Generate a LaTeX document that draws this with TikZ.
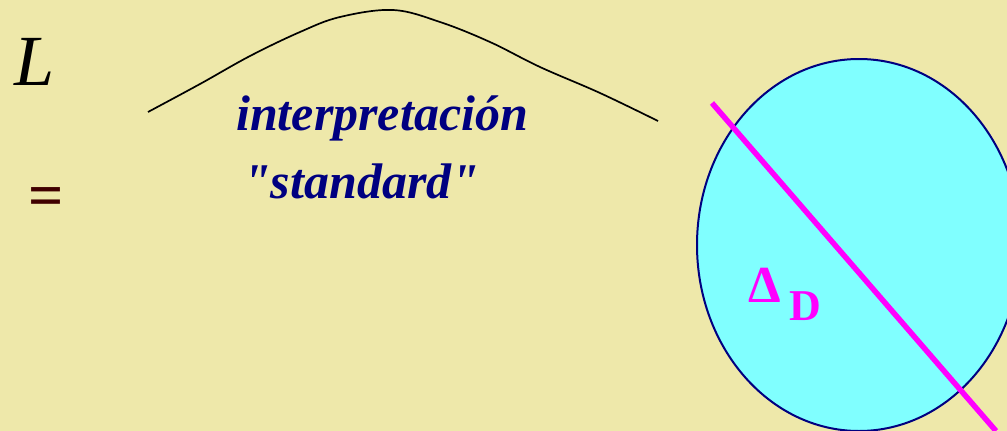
\documentclass[tikz,border=0pt]{standalone}
\usepackage{fontspec}
\setmainfont{Liberation Serif}
\newfontfamily\plainserif{Liberation Serif}
\definecolor{bgyel}{RGB}{238,232,170}
\definecolor{navy}{RGB}{0,0,128}
\definecolor{cyanfill}{RGB}{128,255,255}
\definecolor{maroon}{RGB}{64,0,0}
\definecolor{magen}{RGB}{255,0,255}
\begin{document}
\begin{tikzpicture}[x=1pt,y=-1pt,
  bluetext/.style={text=navy,font=\plainserif\fontsize{50}{50}\selectfont\bfseries\itshape,inner sep=0pt,anchor=base west},
  labtext/.style={text=magen,inner sep=0pt,anchor=base west}]
\useasboundingbox (0,0) rectangle (1007,431);
\fill[bgyel] (0,0) rectangle (1007,431);
% ellipse
\begin{scope}
\clip (0,0) rectangle (1007,431);
\draw[navy,fill=cyanfill,line width=2pt] (859,245) ellipse [x radius=162, y radius=186];
\coordinate (ls) at (712,103);
\coordinate (le) at (996,431);
\draw[magen,line width=5.5pt] (ls) -- (le);
\end{scope}
% arc
\draw[black,line width=1.7pt] plot[smooth,tension=0.6] coordinates {(148,112) (200,84) (250,56) (300,32) (340,17) (393,10) (440,22) (490,42) (540,67) (600,93) (658,121)};
% texts
\node[inner sep=0pt,anchor=base west,font=\fontsize{72}{72}\selectfont\itshape] (L) at (14,85) {L};
\node[inner sep=0pt,anchor=base west,text=maroon,font=\fontsize{62}{62}\selectfont\bfseries] (eq) at (28,216) {=};
\node[bluetext] (t1) at (236,130) {interpretación};
\node[bluetext] (t2) at (243,198) {"standard"};
\node[labtext,font=\fontsize{52}{52}\selectfont\bfseries] (delta) at (748,302) {Δ};
\node[labtext,font=\fontsize{44}{44}\selectfont\bfseries] (dsub) at (789,320) {D};
\end{tikzpicture}
\end{document}
